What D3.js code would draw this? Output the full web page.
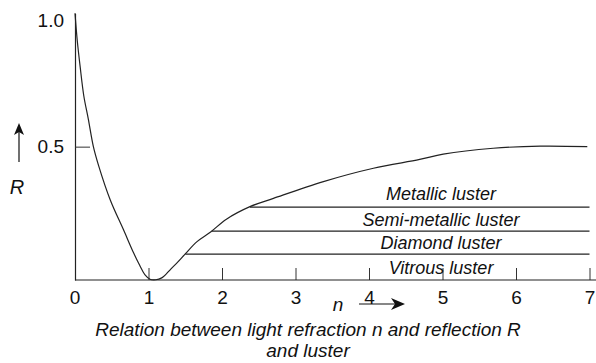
<!DOCTYPE html>
<html>
<head>
<meta charset="utf-8">
<script src="https://cdnjs.cloudflare.com/ajax/libs/d3/7.8.5/d3.min.js"></script>
<style>
  body { margin: 0; background: #fff; }
  svg text { font-family: "Liberation Sans", Arial, Helvetica, sans-serif; fill: #111; }
</style>
</head>
<body>
<script>
// refraction index n and reflection R
const nVals = [0, 0.03, 0.07, 0.12, 0.18, 0.25, 0.32, 0.48, 0.66, 0.8, 0.88, 0.95, 1.02, 1.1, 1.18, 1.24, 1.3, 1.4, 1.5, 1.66, 1.85, 2.06, 2.38, 2.7, 3.38, 4.06, 4.69, 5.01, 5.69, 6.33, 6.97];
const rVals = [1.0, 0.9, 0.8, 0.69, 0.605, 0.5, 0.43, 0.30, 0.188, 0.1, 0.055, 0.02, 0.003, 0.001, 0.008, 0.022, 0.04, 0.068, 0.098, 0.144, 0.181, 0.228, 0.275, 0.306, 0.369, 0.419, 0.452, 0.472, 0.494, 0.502, 0.5];

// luster bands: lower R bound of each band and where its line leaves the curve
const lusterNames = ["Metallic luster", "Semi-metallic luster", "Diamond luster", "Vitrous luster"];
const lusterR = [0.273, 0.183, 0.097, 0];
const lusterN = [2.38, 1.86, 1.5, null];

const xTicks = [1, 2, 3, 4, 5, 6, 7];
const yTicks = [0.5, 1.0];
const caption = ["Relation between light refraction n and reflection R", "and luster"];

const w = 596, h = 363;
const x = d3.scaleLinear().domain([0, 7]).range([75, 589.5]);
const y = d3.scaleLinear().domain([0, 1]).range([280, 13.3]);

const svg = d3.select("body").append("svg")
  .attr("width", w)
  .attr("height", h);

// x axis, ticks pointing up
const xAxis = svg.append("g")
  .attr("transform", "translate(0," + y(0) + ")")
  .call(d3.axisBottom(x).tickValues(xTicks).tickFormat(d3.format("d"))
    .tickSizeInner(-12).tickSizeOuter(0).tickPadding(11));
xAxis.select(".domain").remove();
xAxis.append("line")
  .attr("x1", x(0)).attr("x2", w)
  .attr("stroke", "#222").attr("stroke-width", 1.2);
xAxis.selectAll(".tick line").attr("stroke", "#333").attr("stroke-width", 1);
xAxis.selectAll(".tick text").attr("font-size", 19).attr("fill", "#111");
// the 0 label sits under the corner
xAxis.append("text")
  .attr("x", x(0)).attr("y", 11).attr("dy", "0.71em")
  .attr("text-anchor", "middle").attr("font-size", 19).text("0");

// y axis, tick pointing right
const yAxis = svg.append("g")
  .attr("transform", "translate(" + x(0) + ",0)")
  .call(d3.axisLeft(y).tickValues(yTicks).tickFormat(d3.format(".1f"))
    .tickSizeInner(-15).tickSizeOuter(0).tickPadding(11));
yAxis.select(".domain").attr("stroke", "#222").attr("stroke-width", 1.2);
yAxis.selectAll(".tick line").attr("stroke", "#333");
yAxis.selectAll(".tick text").attr("font-size", 19).attr("fill", "#111");
yAxis.selectAll(".tick").filter(d => d === 1.0).select("line").remove();
yAxis.selectAll(".tick").filter(d => d === 1.0).select("text").attr("dy", "0.72em");

// reflection curve
const pts = nVals.map((n, i) => [n, rVals[i]]);
svg.append("path")
  .datum(pts)
  .attr("fill", "none")
  .attr("stroke", "#222")
  .attr("stroke-width", 1.2)
  .attr("d", d3.line().x(d => x(d[0])).y(d => y(d[1])).curve(d3.curveCatmullRom.alpha(0.5)));

// luster lines and labels
lusterNames.forEach((name, i) => {
  if (lusterN[i] !== null) {
    svg.append("line")
      .attr("x1", x(lusterN[i])).attr("x2", x(7))
      .attr("y1", y(lusterR[i])).attr("y2", y(lusterR[i]))
      .attr("stroke", "#222").attr("stroke-width", 1.2);
  }
  const upper = i === 0 ? lusterR[0] + 0.1 : lusterR[i - 1];
  svg.append("text")
    .attr("x", x(4.98))
    .attr("y", y((lusterR[i] + upper) / 2))
    .attr("dy", "0.36em")
    .attr("text-anchor", "middle")
    .attr("font-size", 18)
    .attr("font-style", "italic")
    .text(name);
});

// axis names with arrows
const arrowHead = (tx, ty, dir) => {
  // dir: "up" or "right"
  const p = dir === "up"
    ? [[tx, ty], [tx - 5, ty + 12], [tx, ty + 9], [tx + 5, ty + 12]]
    : [[tx, ty], [tx - 14, ty - 6], [tx - 10, ty], [tx - 14, ty + 6]];
  svg.append("path").attr("d", "M" + p.join("L") + "Z").attr("fill", "#111");
};
svg.append("line").attr("x1", 19).attr("x2", 19).attr("y1", 162).attr("y2", 132)
  .attr("stroke", "#111").attr("stroke-width", 1.2);
arrowHead(19, 123, "up");
svg.append("text").attr("x", 17).attr("y", 194).attr("text-anchor", "middle")
  .attr("font-size", 20).attr("font-style", "italic").text("R");

svg.append("text").attr("x", 338).attr("y", 311).attr("text-anchor", "middle")
  .attr("font-size", 19).attr("font-style", "italic").text("n");
svg.append("line").attr("x1", 359).attr("x2", 398).attr("y1", 304).attr("y2", 304)
  .attr("stroke", "#111").attr("stroke-width", 1.2);
arrowHead(405, 304, "right");

// caption
svg.selectAll(".cap")
  .data(caption)
  .enter()
  .append("text")
  .attr("class", "cap")
  .attr("x", 308)
  .attr("y", (d, i) => 336 + i * 21)
  .attr("text-anchor", "middle")
  .attr("font-size", 19)
  .attr("font-style", "italic")
  .text(d => d);
</script>
</body>
</html>
